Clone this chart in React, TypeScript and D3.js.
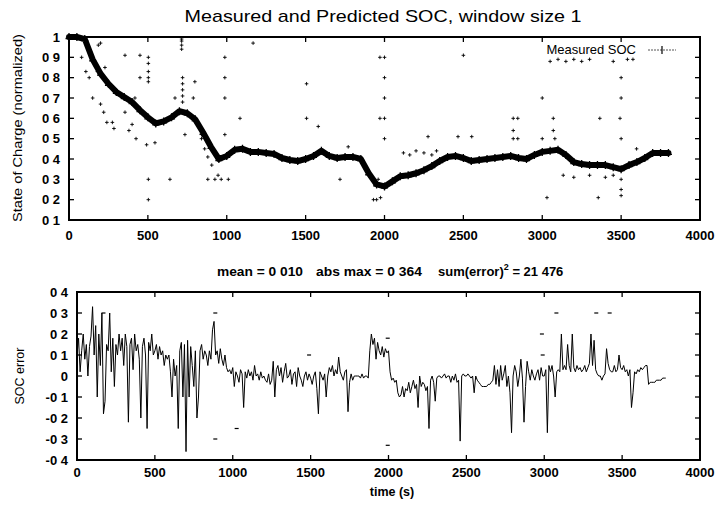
import React from "react";
import * as d3 from "d3";

// ---------- data ----------
const timeTicks = [0, 500, 1000, 1500, 2000, 2500, 3000, 3500, 4000];
const socTicks = [0.1, 0.2, 0.3, 0.4, 0.5, 0.6, 0.7, 0.8, 0.9, 1.0];
const socTickLabels = ["0 1", "0 2", "0 3", "0 4", "0 5", "0 6", "0 7", "0 8", "0 9", "1"];
const errTicks = [-0.4, -0.3, -0.2, -0.1, 0, 0.1, 0.2, 0.3, 0.4];
const errTickLabels = ["-0 4", "-0 3", "-0 2", "-0 1", "0", "0 1", "0 2", "0 3", "0 4"];

// measured SOC, one value every 50 s from t = 0
const measuredStep = 50;
const measuredSOC = [
  1.0, 1.0, 0.99, 0.89, 0.82, 0.77, 0.73, 0.705, 0.68, 0.64,
  0.605, 0.575, 0.585, 0.605, 0.635, 0.625, 0.595, 0.53, 0.46, 0.4,
  0.415, 0.445, 0.45, 0.435, 0.435, 0.43, 0.425, 0.405, 0.395, 0.39,
  0.4, 0.415, 0.44, 0.415, 0.405, 0.41, 0.41, 0.4, 0.33, 0.275,
  0.265, 0.29, 0.315, 0.32, 0.33, 0.345, 0.365, 0.39, 0.41, 0.415,
  0.405, 0.39, 0.395, 0.4, 0.405, 0.41, 0.415, 0.405, 0.4, 0.42,
  0.435, 0.44, 0.445, 0.42, 0.385, 0.375, 0.37, 0.37, 0.37, 0.36,
  0.35, 0.37, 0.385, 0.405, 0.43, 0.43, 0.43,
];

// predicted SOC points away from the measured band [t, soc]
const predictedOutliers: [number, number][] = [
  [80, 0.9], [186, 0.96], [200, 0.97], [107, 0.83], [128, 0.8], [150, 0.7], [180, 0.83], [200, 0.67],
  [220, 0.63], [228, 0.85], [240, 0.58], [275, 0.58], [285, 0.55], [355, 0.63], [355, 0.91], [380, 0.54],
  [400, 0.57], [418, 0.7], [425, 0.5], [450, 0.91], [450, 0.8], [492, 0.47], [503, 0.9], [503, 0.87],
  [503, 0.83], [503, 0.8], [503, 0.78], [503, 0.3], [503, 0.2], [545, 0.48], [640, 0.3], [672, 0.7],
  [714, 0.96], [714, 0.98], [714, 0.99], [714, 0.94], [720, 0.8], [720, 0.77], [720, 0.74], [720, 0.71],
  [720, 0.68], [735, 0.52], [788, 0.7], [798, 0.78], [840, 0.52], [840, 0.5], [860, 0.45], [880, 0.41],
  [880, 0.3], [905, 0.37], [925, 0.3], [945, 0.32], [965, 0.3], [988, 0.9], [988, 0.8], [988, 0.7],
  [988, 0.52], [1010, 0.3], [1084, 0.6], [1167, 0.97], [1506, 0.77], [1506, 0.6], [1580, 0.56],
  [1718, 0.3], [1770, 0.46], [1971, 0.9], [1971, 0.6], [1960, 0.3], [1930, 0.2], [1950, 0.2],
  [1975, 0.21], [2000, 0.9], [2000, 0.8], [2000, 0.7], [2000, 0.6], [2000, 0.5], [2120, 0.43],
  [2160, 0.42], [2200, 0.44], [2250, 0.43], [2276, 0.51], [2300, 0.42], [2330, 0.44], [2466, 0.51],
  [2500, 0.91], [2553, 0.51], [2816, 0.6], [2816, 0.54], [2816, 0.5], [2845, 0.6], [2845, 0.5],
  [3000, 0.7], [3000, 0.5], [3030, 0.21], [3050, 0.88], [3070, 0.6], [3070, 0.54], [3080, 0.5],
  [3100, 0.89], [3150, 0.88], [3200, 0.89], [3250, 0.88], [3300, 0.89], [3365, 0.6], [3355, 0.21],
  [3133, 0.32], [3200, 0.31], [3300, 0.32], [3400, 0.31], [3450, 0.32], [3450, 0.88], [3493, 0.6],
  [3500, 0.8], [3500, 0.7], [3500, 0.5], [3500, 0.3], [3500, 0.25], [3500, 0.22], [3540, 0.89],
  [3575, 0.89], [3598, 0.45],
];

// SOC error, one value every 10 s from t = 0
const errorStep = 10;
const socError = [
  0.1, 0.18, 0.02, 0.12, 0.2, 0.08, 0.15, 0.0, 0.14, 0.19,
  0.33, 0.1, 0.24, -0.1, 0.2, 0.05, 0.3, -0.18, -0.12, 0.15,
  0.12, 0.3, 0.02, 0.18, -0.05, 0.15, 0.1, 0.2, 0.12, 0.18,
  0.05, 0.2, 0.14, -0.22, 0.15, 0.18, 0.03, 0.2, 0.12, 0.15,
  0.08, -0.2, 0.14, 0.18, 0.1, -0.25, 0.16, 0.12, 0.2, 0.1,
  0.12, 0.15, 0.08, 0.14, 0.1, 0.12, 0.05, 0.1, 0.08, 0.1,
  0.02, -0.1, 0.08, 0.0, 0.05, -0.25, 0.12, 0.16, -0.1, 0.15,
  -0.36, 0.17, -0.1, 0.14, 0.05, -0.05, 0.12, -0.2, -0.1, 0.12,
  0.15, 0.08, 0.12, 0.1, 0.05, 0.12, 0.08, 0.22, 0.26, 0.1,
  0.12, 0.06, 0.13, 0.08, 0.05, 0.1, 0.04, 0.02, 0.03, 0.01,
  0.04, -0.05, 0.02, 0.0, -0.03, 0.03, 0.01, -0.15, 0.02, -0.01,
  0.03, 0.0, 0.02, -0.02, 0.05, 0.0, 0.01, -0.02, 0.02, -0.01,
  0.0, -0.02, -0.03, 0.01, -0.04, -0.02, 0.07, -0.1, 0.03, 0.05,
  0.0, 0.04, -0.03, 0.02, 0.06, -0.01, 0.0, 0.03, -0.04, 0.01,
  0.02, -0.05, 0.04, 0.0, -0.02, -0.05, 0.0, 0.02, -0.02, 0.01,
  -0.01, -0.04, 0.0, 0.02, -0.06, -0.18, 0.02, 0.0, -0.02, 0.01,
  -0.1, 0.0, 0.04, 0.02, 0.05, 0.0, 0.03, 0.01, 0.09, 0.02,
  0.0, -0.02, 0.02, 0.03, -0.17, -0.03, 0.01, -0.02, 0.0, 0.0,
  0.0, 0.0, -0.01, 0.01, -0.01, 0.0, 0.0, -0.01, 0.12, 0.2,
  0.15, 0.18, 0.08, 0.16, 0.12, 0.1, 0.14, 0.09, 0.13, 0.11,
  0.12, 0.02, -0.02, -0.01, -0.03, -0.02, -0.08, -0.1, -0.09, -0.05,
  -0.1, -0.06, -0.07, -0.03, -0.08, -0.05, -0.02, -0.06, -0.04, -0.15,
  0.0, -0.05, -0.03, -0.04, -0.07, -0.05, -0.25, -0.02, 0.0, -0.03,
  -0.12, -0.01, 0.0, 0.0, -0.01, 0.0, 0.01, -0.01, 0.0, 0.0,
  -0.03, 0.0, -0.02, 0.01, -0.03, -0.02, -0.31, 0.0, 0.01, 0.0,
  0.0, 0.01, 0.0, -0.01, 0.0, -0.08, 0.0, -0.02, -0.03, -0.04,
  -0.05, -0.05, -0.05, -0.05, -0.04, -0.04, -0.03, -0.02, 0.05, -0.04,
  0.03, -0.05, 0.05, -0.02, 0.01, 0.05, -0.05, 0.0, -0.08, -0.27,
  0.0, 0.05, 0.02, -0.05, 0.0, 0.08, -0.01, -0.22, -0.05, 0.07,
  0.02, -0.02, 0.03, 0.0, -0.02, 0.01, 0.03, -0.02, 0.04, 0.0,
  0.0, 0.03, -0.27, 0.05, 0.02, 0.05, 0.0, -0.1, 0.02, 0.03,
  0.02, 0.2, 0.03, 0.05, 0.03, 0.15, 0.05, 0.02, 0.2, 0.04,
  0.02, 0.05, 0.03, 0.04, 0.02, 0.03, 0.05, 0.02, 0.04, 0.06,
  0.2, 0.05, 0.17, 0.03, 0.01, 0.0, 0.0, -0.02, 0.0, 0.01,
  0.13, 0.06, 0.03, 0.02, 0.02, 0.05, 0.02, 0.03, 0.1, 0.04,
  0.03, 0.05, 0.02, 0.03, 0.0, 0.03, -0.15, -0.08, 0.02, 0.01,
  0.03, 0.02, 0.04, 0.03, 0.04, 0.05, 0.05, -0.04, -0.03, -0.03,
  -0.03, -0.03, -0.02, -0.02, -0.02, -0.02, -0.01, -0.01, -0.01,
];

const errorOutliers: [number, number][] = [
  [170, 0.3], [888, 0.3], [888, -0.3], [1025, -0.25], [1490, 0.1], [1995, -0.33], [1995, 0.18],
  [2985, 0.2], [2990, 0.1], [3078, 0.3], [3334, 0.3], [3420, 0.3],
];

const titleText = "Measured and Predicted SOC, window size 1";
const statMean = "mean = 0 010";
const statAbsMax = "abs max = 0 364";
const statSumHead = "sum(error)";
const statSumTail = " = 21 476";

// ---------- layout ----------
const W = 720;
const H = 507;
const FONT = "'Liberation Sans', Arial, Helvetica, sans-serif";

const xTop = d3.scaleLinear().domain([0, 4000]).range([69, 700]);
const yTop = d3.scaleLinear().domain([0.1, 1.0]).range([220, 37]);
const xBot = d3.scaleLinear().domain([0, 4000]).range([77, 700]);
const yBot = d3.scaleLinear().domain([-0.4, 0.4]).range([460, 292]);

function Frame({ x, y, yt, ytl, tickLen = 5, xLabelDy = 20 }: any) {
  const [x0, x1] = x.range();
  const [y0, y1] = y.range();
  return (
    <g>
      {timeTicks.map((t) => (
        <g key={"xt" + t}>
          <line x1={x(t)} x2={x(t)} y1={y0} y2={y0 - tickLen} stroke="#000" strokeWidth={1.3} />
          <line x1={x(t)} x2={x(t)} y1={y1} y2={y1 + tickLen} stroke="#000" strokeWidth={1.3} />
          <text x={x(t)} y={y0 + xLabelDy} textAnchor="middle" fontSize={13} fontWeight="bold" fontFamily={FONT}>
            {t}
          </text>
        </g>
      ))}
      {yt.map((v: number, i: number) => (
        <g key={"yt" + i}>
          <line x1={x0} x2={x0 + tickLen} y1={y(v)} y2={y(v)} stroke="#000" strokeWidth={1.3} />
          <line x1={x1} x2={x1 - tickLen} y1={y(v)} y2={y(v)} stroke="#000" strokeWidth={1.3} />
          <text x={x0 - 9} y={y(v) + 4.5} textAnchor="end" fontSize={13} fontWeight="bold" fontFamily={FONT}>
            {ytl[i]}
          </text>
        </g>
      ))}
      <rect x={x0} y={y1} width={x1 - x0} height={y0 - y1} fill="none" stroke="#000" strokeWidth={2} />
    </g>
  );
}

export default function App() {
  const measLine = d3
    .line<number>()
    .x((_, i) => xTop(i * measuredStep))
    .y((d) => yTop(d))
    .curve(d3.curveLinear)(measuredSOC) as string;

  const errLine = d3
    .line<number>()
    .x((_, i) => xBot(i * errorStep))
    .y((d) => yBot(d))(socError) as string;

  return (
    <svg
      width={W}
      height={H}
      viewBox={`0 0 ${W} ${H}`}
      style={{ position: "absolute", left: 0, top: 0, background: "#fff" }}
    >
      <rect width={W} height={H} fill="#fff" />
      {/* title */}
      <text x={383} y={22} textAnchor="middle" fontSize={17} fontFamily={FONT} textLength={397} lengthAdjust="spacingAndGlyphs">
        {titleText}
      </text>

      {/* top plot */}
      <Frame x={xTop} y={yTop} yt={socTicks} ytl={socTickLabels} />
      <g>
        {predictedOutliers.map(([t, v], i) => (
          <path
            key={"po" + i}
            d={`M${xTop(t) - 1.8},${yTop(v)}h3.6M${xTop(t)},${yTop(v) - 1.8}v3.6`}
            stroke="#000"
            strokeWidth={0.9}
          />
        ))}
      </g>
      <path d={measLine} fill="none" stroke="#000" strokeWidth={6} strokeLinejoin="round" strokeLinecap="round" />
      <g>
        {measuredSOC.map((v, i) => (
          <path
            key={"mm" + i}
            d={`M${xTop(i * measuredStep) - 3.5},${yTop(v) + 1.5}h7M${xTop(i * measuredStep)},${yTop(v) - 4}v8`}
            stroke="#000"
            strokeWidth={1.3}
          />
        ))}
      </g>
      <text
        x={-128}
        y={22}
        transform="rotate(-90)"
        textAnchor="middle"
        fontSize={12.5}
        fontFamily={FONT}
        textLength={188}
        lengthAdjust="spacingAndGlyphs"
      >
        State of Charge (normalized)
      </text>
      {/* legend */}
      <text x={636} y={54} textAnchor="end" fontSize={13} fontFamily={FONT}>
        Measured SOC
      </text>
      <line x1={648} x2={676} y1={50} y2={50} stroke="#555" strokeWidth={1} strokeDasharray="2,1" />
      <line x1={662} x2={662} y1={46} y2={54} stroke="#000" strokeWidth={1.2} />

      {/* stats line */}
      <g fontSize={13} fontFamily={FONT} fontWeight="bold">
        <text x={217} y={276} textLength={86} lengthAdjust="spacingAndGlyphs">{statMean}</text>
        <text x={316} y={276} textLength={106} lengthAdjust="spacingAndGlyphs">{statAbsMax}</text>
        <text x={438} y={276}>
          {statSumHead}
          <tspan dy={-6} fontSize={9}>2</tspan>
          <tspan dy={6}>{statSumTail}</tspan>
        </text>
      </g>

      {/* bottom plot */}
      <Frame x={xBot} y={yBot} yt={errTicks} ytl={errTickLabels} xLabelDy={17} />
      <path d={errLine} fill="none" stroke="#000" strokeWidth={1} />
      <g>
        {errorOutliers.map(([t, v], i) => (
          <path key={"eo" + i} d={`M${xBot(t) - 2},${yBot(v)}h4`} stroke="#000" strokeWidth={1.2} />
        ))}
      </g>
      <text x={-376} y={24} transform="rotate(-90)" textAnchor="middle" fontSize={12.5} fontFamily={FONT}>
        SOC error
      </text>
      <text x={392} y={496} textAnchor="middle" fontSize={12.5} fontFamily={FONT} fontWeight="bold">
        time (s)
      </text>
    </svg>
  );
}
